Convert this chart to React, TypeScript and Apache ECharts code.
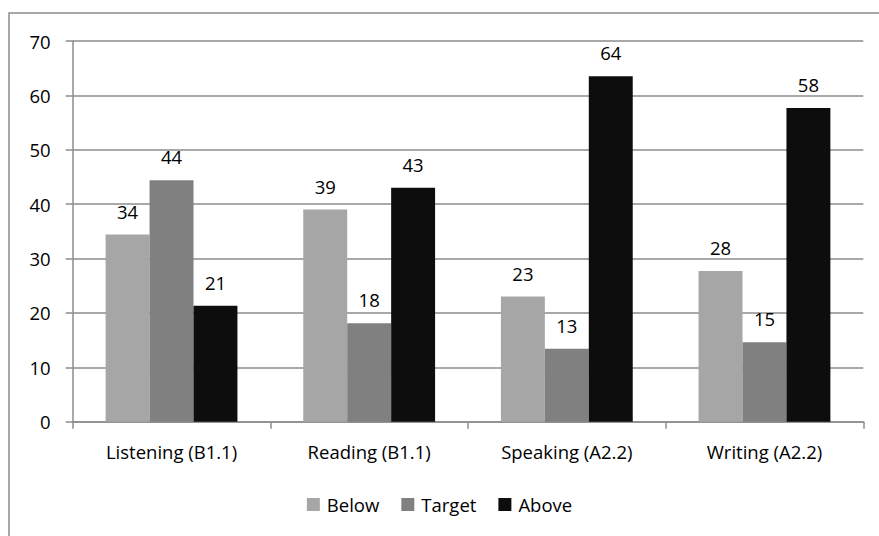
import React, { useEffect, useRef } from "react";
import * as echarts from "echarts";

const categories = ["Listening (B1.1)", "Reading (B1.1)", "Speaking (A2.2)", "Writing (A2.2)"];
const below = [34.4, 39.0, 23.0, 27.7];
const target = [44.4, 18.1, 13.4, 14.6];
const above = [21.3, 43.0, 63.5, 57.7];
const seriesNames = ["Below", "Target", "Above"];
const colors = ["#a6a6a6", "#808080", "#0d0d0d"];

const FONT = "Open Sans";
const FS = 18.5;

export default function App() {
  const ref = useRef<HTMLDivElement>(null);
  useEffect(() => {
    if (!ref.current) return;
    const chart = echarts.init(ref.current, null, { renderer: "svg" });
    const mk = (name: string, data: number[], color: string) => ({
      name,
      type: "bar",
      data,
      barGap: "0%",
      barCategoryGap: "33.3%",
      itemStyle: { color },
      label: {
        show: true,
        position: "top",
        distance: 14,
        color: "#000",
        fontSize: FS,
        fontFamily: FONT,
        formatter: (p: any) => String(Math.round(p.value)),
      },
    });
    chart.setOption({
      animation: false,
      backgroundColor: "#fff",
      textStyle: { fontFamily: FONT },
      graphic: [
        {
          type: "rect",
          shape: { x: 9, y: 13, width: 900, height: 600 },
          style: { fill: "none", stroke: "#8c8c8c", lineWidth: 1.5 },
          silent: true,
          z: -1,
        },
      ],
      grid: { left: 72.7, right: 15.7, top: 41, bottom: 114.3, containLabel: false },
      legend: {
        data: seriesNames,
        bottom: 17,
        left: "center",
        itemWidth: 13,
        itemHeight: 13,
        itemGap: 22,
        icon: "rect",
        textStyle: { fontSize: FS, color: "#000", fontFamily: FONT, padding: [0, 0, 0, 2] },
      },
      xAxis: {
        type: "category",
        data: categories,
        axisLine: { lineStyle: { color: "#8c8c8c", width: 1.5 } },
        axisTick: { show: true, length: 7, lineStyle: { color: "#8c8c8c", width: 1.5 } },
        axisLabel: { color: "#000", fontSize: FS, fontFamily: FONT, margin: 20 },
      },
      yAxis: {
        type: "value",
        min: 0,
        max: 70,
        interval: 10,
        axisLine: { show: true, lineStyle: { color: "#8c8c8c", width: 1.5 } },
        axisTick: { show: true, length: 7, lineStyle: { color: "#8c8c8c", width: 1.5 } },
        axisLabel: { color: "#000", fontSize: FS, fontFamily: FONT, margin: 22 },
        splitLine: { show: true, lineStyle: { color: "#8c8c8c", width: 1.5 } },
      },
      series: [
        mk(seriesNames[0], below, colors[0]),
        mk(seriesNames[1], target, colors[1]),
        mk(seriesNames[2], above, colors[2]),
      ],
    });
    return () => chart.dispose();
  }, []);
  return (
    <div
      ref={ref}
      style={{ position: "fixed", left: 0, top: 0, width: 879, height: 536 }}
    />
  );
}
